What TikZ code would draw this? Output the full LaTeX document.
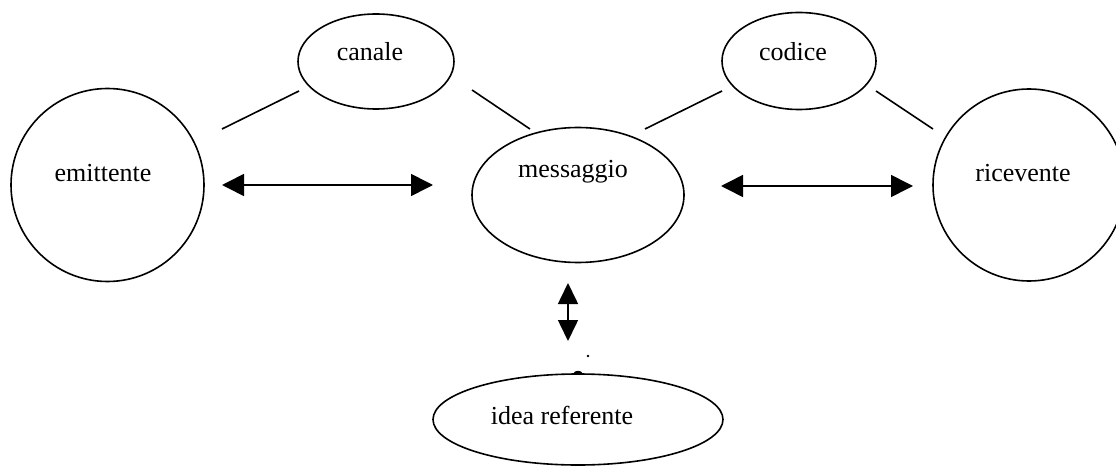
\documentclass[tikz,border=0pt]{standalone}
\usepackage{fontspec}
\setmainfont{Liberation Serif}
\usetikzlibrary{shapes.geometric,arrows.meta}

\tikzset{
  blob/.style={draw, ellipse, line width=1.6pt, inner sep=0pt},
  word/.style={font=\fontsize{26}{30}\selectfont, inner sep=0pt},
  link/.style={line width=1.6pt},
  biarrow/.style={line width=1.6pt, {Triangle[length=22pt,width=22pt]}-{Triangle[length=22pt,width=22pt]}},
  vbiarrow/.style={line width=1.6pt, {Triangle[length=21pt,width=20pt]}-{Triangle[length=21pt,width=20pt]}}
}

\begin{document}
\begin{tikzpicture}[x=1pt, y=-1pt]
  \useasboundingbox (0,0) rectangle (1116,468);

  % shapes
  \node[blob, minimum width=193pt, minimum height=193pt] (emit) at (107.5,185) {};
  \node[blob, minimum width=156pt, minimum height=95pt] (canale) at (376,61.5) {};
  \node[blob, minimum width=154pt, minimum height=97pt] (codice) at (799,61) {};
  \node[blob, minimum width=212pt, minimum height=135pt] (msg) at (578,195) {};
  \node[blob, minimum width=192pt, minimum height=192pt] (ricev) at (1029,185) {};
  \node[blob, minimum width=290pt, minimum height=91pt] (idea) at (578,419.5) {};

  % labels
  \node[word] (temit) at (103,173) {emittente};
  \node[word] (tcanale) at (370,52) {canale};
  \node[word] (tcodice) at (793,52) {codice};
  \node[word] (tmsg) at (573,172) {messaggio};
  \node[word] (tricev) at (1023,173) {ricevente};
  \node[word] (tidea) at (562,415) {idea referente};

  % free-standing segments between the shapes
  \coordinate (s1a) at (222,129); \coordinate (s1b) at (299,91);
  \coordinate (s2a) at (472,90);  \coordinate (s2b) at (530,129);
  \coordinate (s3a) at (645,129); \coordinate (s3b) at (722,91);
  \coordinate (s4a) at (876,91);  \coordinate (s4b) at (933,129);
  \draw[link] (s1a) -- (s1b);
  \draw[link] (s2a) -- (s2b);
  \draw[link] (s3a) -- (s3b);
  \draw[link] (s4a) -- (s4b);

  % double arrows
  \coordinate (a1l) at (222,185); \coordinate (a1r) at (433,185);
  \coordinate (a2l) at (721,186); \coordinate (a2r) at (913,186);
  \coordinate (a3t) at (568,283); \coordinate (a3b) at (568,341);
  \draw[biarrow] (a1l) -- (a1r);
  \draw[biarrow] (a2l) -- (a2r);
  \draw[vbiarrow] (a3t) -- (a3b);

  % small marks above the lower ellipse
  \coordinate (dot) at (588,356);
  \fill (dot) circle (1.3);
  \coordinate (bump) at (idea.north);
  \fill ([yshift=0.5pt]bump) ellipse [x radius=4, y radius=1.8];
\end{tikzpicture}
\end{document}
